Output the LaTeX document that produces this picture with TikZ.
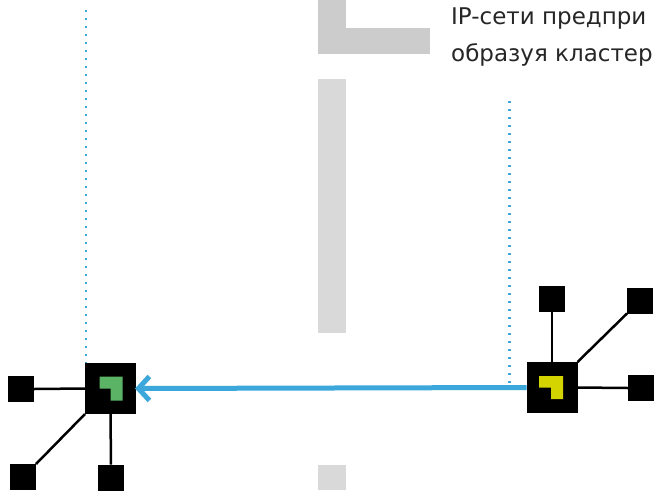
\documentclass[tikz,border=0pt]{standalone}
\usepackage{fontspec}
\setmainfont{DejaVu Sans}
\usepackage{xcolor}
\usepackage{tikz}
\usetikzlibrary{positioning, calc, arrows.meta}

\definecolor{linkblue}{HTML}{3BA7DB}
\definecolor{hubgreen}{HTML}{5BB465}
\definecolor{hubyellow}{HTML}{D4D400}
\definecolor{bargray}{HTML}{CCCCCC}
\definecolor{barlight}{HTML}{D9D9D9}

\begin{document}
\begin{tikzpicture}[x=1pt, y=-1pt]
		\tikzstyle{hub}=[draw=none, fill=black, minimum size=51pt, inner sep=0pt, outer sep=0pt]
		\tikzstyle{host}=[draw=none, fill=black, minimum size=26pt, inner sep=0pt, outer sep=0pt]
		\tikzstyle{wire}=[draw=black, line width=2.5pt]
		\tikzstyle{flow}=[draw=linkblue, line width=5pt, -{Straight Barb[length=11pt, width=24pt]}]
		\tikzstyle{guide}=[draw=linkblue, line width=2.5pt, dash pattern=on 2pt off 6pt]
		\tikzstyle{caption}=[anchor=base west, inner sep=0pt, text=black!85, font=\fontsize{23}{27}\selectfont]
		
		\useasboundingbox (0,0) rectangle (655,490);
		\clip (0,0) rectangle (655,490);
		
		% gray bars in the middle
		\fill [bargray] (318,0) rectangle (346,54);
		\fill [bargray] (318,28) rectangle (430,54);
		\fill [barlight] (318,79) rectangle (346,333);
		\fill [barlight] (318,465) rectangle (346,490);
		
		\node (line1) at (451,24) [caption] {IP-сети предпри};
		\node (line2) at (451,61) [caption] {образуя кластер};
		
		% left switch
		\node (lhub) at (110.5,388.5) [hub] {};
		\fill [hubgreen] ($(lhub)+(-11,-12)$) -- ++(23,0) -- ++(0,24) -- ++(-12,0) -- ++(0,-12) -- ++(-11,0) -- cycle;
		\node (lh1) at (21,389) [host] {};
		\node (lh2) at (23,477) [host] {};
		\node (lh3) at (111,477.5) [host] {};
		\draw [wire] (lhub.west) -- (lh1.east);
		\draw [wire] (lhub.south west) -- (lh2.north east);
		\draw [wire] (lhub.south) -- (lh3.north);
		
		% right switch
		\node (rhub) at (552,387.5) [hub] {};
		\fill [hubyellow] ($(rhub)+(-13,-11.5)$) -- ++(24,0) -- ++(0,23) -- ++(-12,0) -- ++(0,-11.5) -- ++(-12,0) -- cycle;
		\node (rh1) at (552,299) [host] {};
		\node (rh2) at (640,300.5) [host] {};
		\node (rh3) at (641,388) [host] {};
		\draw [wire] (rhub.north) -- (rh1.south);
		\draw [wire] (rhub.north east) -- (rh2.south west);
		\draw [wire] (rhub.east) -- (rh3.west);
		
		% dotted guides
		\coordinate (ltop) at (86,10);
		\coordinate (rtop) at (509.5,101);
		\draw [guide] (ltop) -- (ltop |- lhub.north);
		\draw [guide] (rtop) -- (rtop |- rhub.west);
		
		\draw [flow, shorten >=-1pt] (rhub.west) -- (lhub.east);
		
\end{tikzpicture}
\end{document}
